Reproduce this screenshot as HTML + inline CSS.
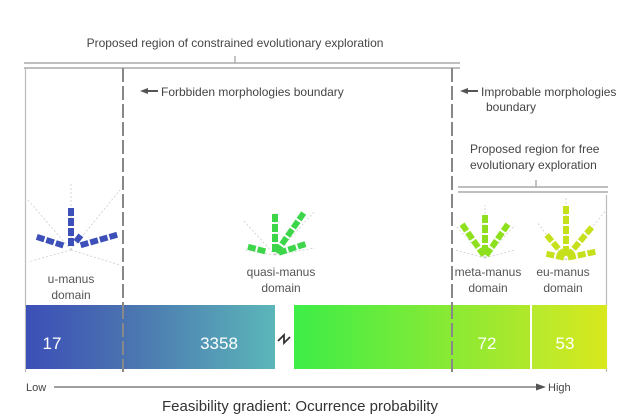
<!DOCTYPE html>
<html><head><meta charset="utf-8"><style>
body{margin:0;background:#fff;width:640px;height:420px;overflow:hidden}
svg{display:block;font-family:"Liberation Sans",Arial,sans-serif}
</style></head><body>
<svg width="640" height="420" viewBox="0 0 640 420">
<defs>
<linearGradient id="g1" x1="0" x2="1"><stop offset="0" stop-color="#3c4fb7"/><stop offset="0.4" stop-color="#4a72b0"/><stop offset="1" stop-color="#5bb6b9"/></linearGradient>
<linearGradient id="g2" x1="0" x2="1"><stop offset="0" stop-color="#3ded48"/><stop offset="1" stop-color="#b0e82a"/></linearGradient>
<linearGradient id="g3" x1="0" x2="1"><stop offset="0" stop-color="#b6ea2e"/><stop offset="1" stop-color="#d8e81c"/></linearGradient>
</defs>
<text x="235" y="47" font-size="12" fill="#444" text-anchor="middle">Proposed region of constrained evolutionary exploration</text>
<line x1="235" y1="56" x2="235" y2="63" stroke="#888"/>
<line x1="24" y1="63" x2="460" y2="63" stroke="#aaa" stroke-width="1.5"/>
<line x1="24" y1="68" x2="460" y2="68" stroke="#aaa" stroke-width="1.5"/>
<line x1="25.5" y1="68" x2="25.5" y2="372" stroke="#bbb" stroke-width="1.2"/>
<line x1="123" y1="68" x2="123" y2="372" stroke="#888" stroke-width="2" stroke-dasharray="14,4"/>
<line x1="452" y1="68" x2="452" y2="372" stroke="#888" stroke-width="2" stroke-dasharray="14,4"/>
<path d="M140 91 L148 88 L148 90 L158 90 L158 92 L148 92 L148 94 Z" fill="#555"/>
<text x="161" y="96" font-size="12" fill="#444">Forbbiden morphologies boundary</text>
<path d="M460 91 L468 88 L468 90 L478 90 L478 92 L468 92 L468 94 Z" fill="#555"/>
<text x="481" y="96" font-size="12" fill="#444">Improbable morphologies</text>
<text x="486" y="111" font-size="12" fill="#444">boundary</text>
<text x="470" y="153" font-size="12" fill="#444">Proposed region for free</text>
<text x="470" y="169" font-size="12" fill="#444">evolutionary exploration</text>
<line x1="536" y1="180" x2="536" y2="187" stroke="#888"/>
<line x1="458" y1="187" x2="608" y2="187" stroke="#aaa" stroke-width="1.5"/>
<line x1="458" y1="192" x2="608" y2="192" stroke="#aaa" stroke-width="1.5"/>
<line x1="606.5" y1="195" x2="606.5" y2="372" stroke="#bbb" stroke-width="1.2"/>

<!-- guide lines -->
<g stroke="#ccc" stroke-width="0.8" stroke-dasharray="2,2" fill="none">
<line x1="71" y1="250" x2="71" y2="182"/><line x1="71" y1="250" x2="28" y2="200"/><line x1="71" y1="250" x2="120" y2="190"/><line x1="71" y1="250" x2="28" y2="262"/><line x1="71" y1="250" x2="120" y2="265"/>
<line x1="275" y1="255" x2="275" y2="212"/><line x1="275" y1="255" x2="243" y2="220"/><line x1="275" y1="255" x2="314" y2="212"/><line x1="275" y1="255" x2="245" y2="250"/><line x1="275" y1="255" x2="315" y2="248"/>
<line x1="485" y1="258" x2="485" y2="205"/><line x1="485" y1="258" x2="455" y2="250"/><line x1="485" y1="258" x2="515" y2="250"/><line x1="485" y1="258" x2="455" y2="225"/><line x1="485" y1="258" x2="515" y2="225"/>
<line x1="566" y1="260" x2="566" y2="196"/><line x1="566" y1="260" x2="537" y2="222"/><line x1="566" y1="260" x2="606" y2="210"/>
</g>
<!-- u-manus -->
<g fill="#3d4fb8" transform="translate(71,248)">
<g transform="rotate(-72)"><rect x="-3" y="-16" width="6" height="8"/><rect x="-3" y="-26" width="6" height="8"/><rect x="-3" y="-36" width="6" height="8"/></g>
<g><rect x="-3" y="-10" width="6" height="8"/><rect x="-3" y="-20" width="6" height="8"/><rect x="-3" y="-30" width="6" height="8"/><rect x="-3" y="-40" width="6" height="8"/></g>
<g transform="rotate(38)"><rect x="-3" y="-16" width="6" height="8"/></g>
<g transform="rotate(74)"><rect x="-3" y="-18" width="6" height="8"/><rect x="-3" y="-28" width="6" height="8"/><rect x="-3" y="-38" width="6" height="8"/><rect x="-3" y="-48" width="6" height="8"/></g>
</g>
<!-- quasi -->
<g fill="#3dd64a" transform="translate(275,254)">
<g transform="rotate(-75)"><rect x="-3" y="-18" width="6" height="8"/><rect x="-3" y="-28" width="6" height="8"/></g>
<g><rect x="-3" y="-10" width="6" height="8"/><rect x="-3" y="-20" width="6" height="8"/><rect x="-3" y="-30" width="6" height="8"/><rect x="-3" y="-40" width="6" height="8"/></g>
<g transform="rotate(35)"><rect x="-3" y="-10" width="6" height="8"/><rect x="-3" y="-20" width="6" height="8"/><rect x="-3" y="-30" width="6" height="8"/><rect x="-3" y="-40" width="6" height="8"/><rect x="-3" y="-50" width="6" height="8"/></g>
<g transform="rotate(72)"><rect x="-3" y="-12" width="6" height="8"/><rect x="-3" y="-22" width="6" height="8"/><rect x="-3" y="-32" width="6" height="8"/></g>
</g>
<!-- meta -->
<g fill="#8ee01e" transform="translate(485,257)">
<g transform="rotate(-35)"><rect x="-3" y="-10" width="6" height="8"/><rect x="-3" y="-20" width="6" height="8"/><rect x="-3" y="-30" width="6" height="8"/><rect x="-3" y="-40" width="6" height="8"/></g>
<g><rect x="-3" y="-12" width="6" height="8"/><rect x="-3" y="-22" width="6" height="8"/><rect x="-3" y="-32" width="6" height="8"/><rect x="-3" y="-42" width="6" height="8"/></g>
<g transform="rotate(35)"><rect x="-3" y="-10" width="6" height="8"/><rect x="-3" y="-20" width="6" height="8"/><rect x="-3" y="-30" width="6" height="8"/><rect x="-3" y="-40" width="6" height="8"/></g>
</g>
<!-- eu -->
<g fill="#c6e01c" transform="translate(566,258)">
<g transform="rotate(-78)"><rect x="-3" y="-10" width="6" height="8"/><rect x="-3" y="-20" width="6" height="8"/></g>
<g transform="rotate(-40)"><rect x="-3" y="-10" width="6" height="8"/><rect x="-3" y="-20" width="6" height="8"/><rect x="-3" y="-30" width="6" height="8"/></g>
<g><rect x="-3" y="-12" width="6" height="8"/><rect x="-3" y="-22" width="6" height="8"/><rect x="-3" y="-32" width="6" height="8"/><rect x="-3" y="-42" width="6" height="8"/><rect x="-3" y="-52" width="6" height="8"/></g>
<g transform="rotate(40)"><rect x="-3" y="-10" width="6" height="8"/><rect x="-3" y="-20" width="6" height="8"/><rect x="-3" y="-30" width="6" height="8"/><rect x="-3" y="-40" width="6" height="8"/></g>
<g transform="rotate(78)"><rect x="-3" y="-10" width="6" height="8"/><rect x="-3" y="-20" width="6" height="8"/><rect x="-3" y="-30" width="6" height="8"/></g>
</g>

<g font-size="12" fill="#555" text-anchor="middle">
<text x="71" y="283">u-manus</text><text x="71" y="299">domain</text>
<text x="281" y="276">quasi-manus</text><text x="281" y="292">domain</text>
<text x="488" y="276">meta-manus</text><text x="488" y="292">domain</text>
<text x="563" y="276">eu-manus</text><text x="563" y="292">domain</text>
</g>

<rect x="26" y="305" width="249" height="64" fill="url(#g1)"/>
<rect x="294" y="305" width="236" height="64" fill="url(#g2)"/>
<rect x="532" y="305" width="75" height="64" fill="url(#g3)"/>
<line x1="531" y1="305" x2="531" y2="369" stroke="#fff" stroke-width="1.5" stroke-dasharray="3,2"/>
<line x1="123" y1="305" x2="123" y2="372" stroke="#888" stroke-width="2" stroke-dasharray="14,4"/>
<line x1="452" y1="305" x2="452" y2="372" stroke="#888" stroke-width="2" stroke-dasharray="14,4"/>
<path d="M278 341 L284 335 L284 343 L290 337" stroke="#333" stroke-width="1.8" fill="none"/>
<g font-size="17" fill="#fff" text-anchor="middle">
<text x="52" y="349">17</text><text x="219" y="349">3358</text><text x="487" y="349">72</text><text x="565" y="349">53</text>
</g>
<text x="26" y="391" font-size="11" fill="#444">Low</text>
<line x1="54" y1="387" x2="538" y2="387" stroke="#666" stroke-width="1.2"/>
<path d="M546 387 L536 383.5 L536 390.5 Z" fill="#555"/>
<text x="548" y="391" font-size="11" fill="#444">High</text>
<text x="300" y="411" font-size="15" fill="#333" text-anchor="middle">Feasibility gradient: Ocurrence probability</text>
</svg>
</body></html>
